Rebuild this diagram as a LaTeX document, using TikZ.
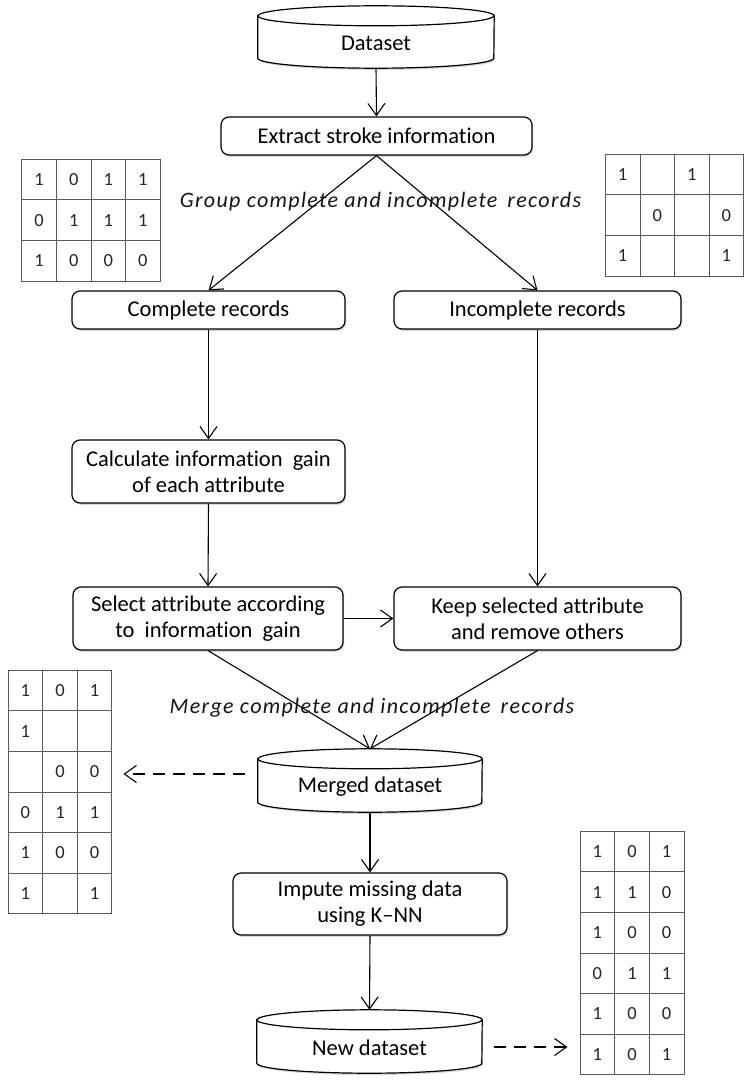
\documentclass[tikz,border=0pt]{standalone}
\usepackage{fontspec}
\setmainfont{Carlito}[Ligatures={NoCommon}]
\newfontfamily\labfont{Carlito}[LetterSpace=6,Ligatures={NoCommon}]
\usetikzlibrary{arrows.meta,shadows,calc,matrix}
\newcommand\bxfont{\fontsize{22.5}{26}\selectfont}
\newcommand\tbfont{\fontsize{18.5}{20}\selectfont}
\newcommand\lbfont{\labfont\itshape\fontsize{22}{26}\selectfont}
\newcommand\cylout[2]{%
  \path[cylfill] ([yshift=-10pt]#1.north west) -- ([yshift=10pt]#1.south west)
     arc[start angle=180,end angle=360,x radius=#2,y radius=10pt]
     -- ([yshift=-10pt]#1.north east)
     arc[start angle=0,end angle=180,x radius=#2,y radius=10pt] -- cycle;
  \draw[cylline] ([yshift=-10pt]#1.north west) arc[start angle=180,end angle=360,x radius=#2,y radius=10pt];
}
\tikzset{
  box/.style={draw, line width=1.2pt, rounded corners=8pt, fill=white, align=center,
    inner sep=2pt, font=\bxfont,
    drop shadow={shadow xshift=1.2pt, shadow yshift=-1.8pt, opacity=0.3}},
  cylnode/.style={inner sep=0pt, draw=none},
  cylfill/.style={draw, line width=1.2pt, fill=white,
    drop shadow={shadow xshift=1.2pt, shadow yshift=-1.8pt, opacity=0.3}},
  cylline/.style={draw, line width=1.2pt},
  cyltext/.style={font=\bxfont},
  arr/.style={line width=1.1pt, -{Straight Barb[length=12pt,width=17pt,line width=1.1pt]}},
  dasharr/.style={arr, dash pattern=on 12pt off 8pt},
  lab/.style={font=\lbfont, text=black!92, inner sep=0pt},
  tbl/.style={matrix of nodes, nodes in empty cells, column sep=-0.8pt, row sep=-0.8pt,
    inner sep=0pt,
    nodes={draw=black!65, line width=0.8pt, minimum width=34.6pt, minimum height=40.6pt,
      inner sep=0pt, anchor=center, text height=12pt, text depth=0pt,
      font=\tbfont, text=black!85}},
}
\begin{document}
\begin{tikzpicture}[x=1pt,y=-1pt]
\useasboundingbox[fill=white] (0,0) rectangle (755,1089);

% cylinders (node frames)
\node[cylnode, minimum width=236pt, minimum height=62pt] (ds) at (376,37) {};
\node[cylnode, minimum width=224pt, minimum height=63pt] (mg) at (370,780.5) {};
\node[cylnode, minimum width=225pt, minimum height=63pt] (nd) at (369.5,1041.5) {};

% process boxes
\node[box, minimum width=311pt, minimum height=38pt] (ext) at (376.5,136) {Extract stroke information};
\node[box, minimum width=273pt, minimum height=38pt] (comp) at (208.5,310) {Complete records};
\node[box, minimum width=287pt, minimum height=38pt] (inc) at (537.5,310) {Incomplete records};
\node[box, minimum width=273pt, minimum height=63pt] (calc) at (208.5,471.5) {Calculate information \ gain\\of each attribute};
\node[box, minimum width=270pt, minimum height=63pt] (sel) at (208,618.5) {Select attribute according\\to \ information \ gain};
\node[box, minimum width=287pt, minimum height=63pt] (keep) at (537.5,618.5) {Keep selected attribute\\and remove others};
\node[box, minimum width=274pt, minimum height=62pt] (imp) at (370,904) {Impute missing data\\using K--NN};

% tables
\matrix[tbl] (tL) at (91,220) {
1 & 0 & 1 & 1 \\
0 & 1 & 1 & 1 \\
1 & 0 & 0 & 0 \\
};
\matrix[tbl] (tR) at (674.5,215) {
1 &   & 1 &   \\
  & 0 &   & 0 \\
1 &   &   & 1 \\
};
\matrix[tbl] (mL) at (60,792) {
1 & 0 & 1 \\
1 &   &   \\
  & 0 & 0 \\
0 & 1 & 1 \\
1 & 0 & 0 \\
1 &   & 1 \\
};
\matrix[tbl] (bR) at (632,953) {
1 & 0 & 1 \\
1 & 1 & 0 \\
1 & 0 & 0 \\
0 & 1 & 1 \\
1 & 0 & 0 \\
1 & 0 & 1 \\
};

% connectors
\draw[arr] (ds.south) -- (ext.north);
\draw[arr] (ext.south) -- (comp.north);
\draw[arr] (ext.south) -- (inc.north);
\draw[arr] (comp.south) -- (calc.north);
\draw[arr] (calc.south) -- (sel.north);
\draw[arr] (inc.south) -- (keep.north);
\draw[arr] (sel.east) -- (keep.west);
\draw[arr] (sel.south) -- (mg.north);
\draw[arr] (keep.south) -- (mg.north);
\draw[arr] (mg.south) -- (imp.north);
\draw[arr] (imp.south) -- (nd.north);
\draw[dasharr, shorten <=13pt, shorten >=11pt] ([yshift=6.5pt]mg.west) -- ([yshift=6.5pt]mg.west -| mL.east);
\draw[dasharr, shorten <=12pt, shorten >=12pt] ([yshift=-5.5pt]nd.east) -- ([yshift=-5.5pt]nd.east -| bR.west);

% cylinder outlines
\cylout{ds}{118pt}
\cylout{mg}{112pt}
\cylout{nd}{112.5pt}
\node[cyltext] at ([yshift=-6pt]ds.center) {Dataset};
\node[cyltext] at ([yshift=-6.5pt]mg.center) {Merged dataset};
\node[cyltext] at ([yshift=-6.5pt]nd.center) {New dataset};

% italic labels
\node[lab] (glab) at (380.5,202) {Group complete and incomplete \,records};
\node[lab] (mlab) at (372,708) {Merge complete and incomplete \,records};
\end{tikzpicture}
\end{document}
